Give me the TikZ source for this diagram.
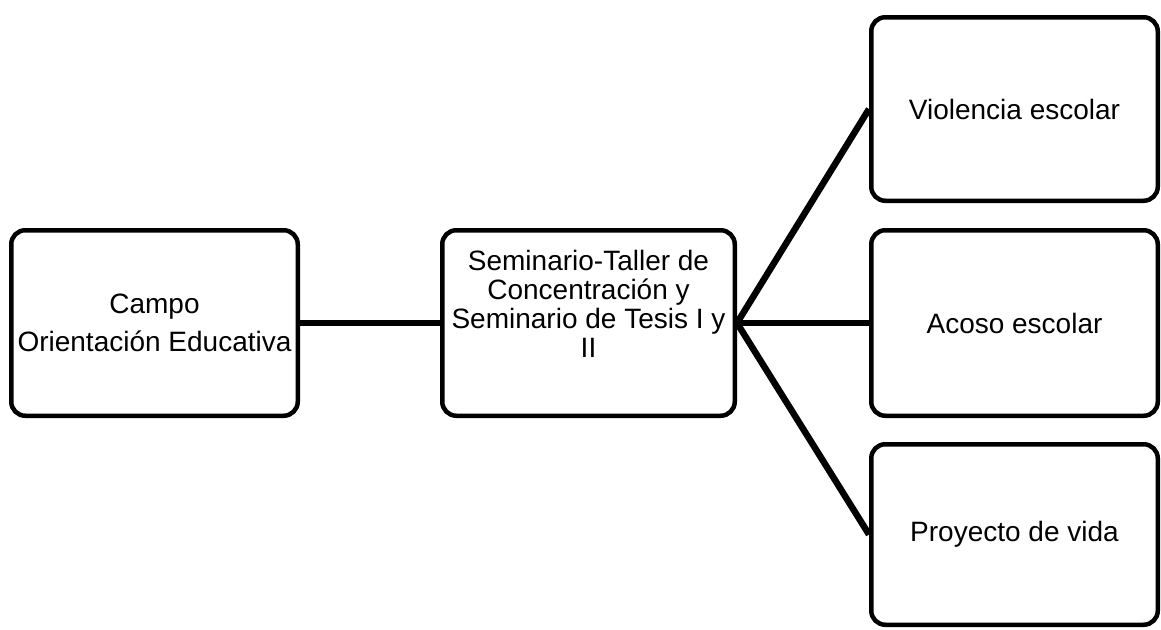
\documentclass[tikz,border=0pt]{standalone}
\usepackage{fontspec}
\setmainfont{Liberation Sans}
\usetikzlibrary{positioning}

\begin{document}
\begin{tikzpicture}[x=1pt,y=-1pt,
	box/.style={draw,line width=4.5pt,rounded corners=14pt,align=center,inner sep=0pt,
		minimum width=286.5pt,font=\fontsize{28}{29}\selectfont},
	link/.style={line width=6.5pt}]
\useasboundingbox (0,0) rectangle (1161,629);
\node[box,minimum height=185.5pt] (campo) at (154.5,323) {Campo\\[9pt]Orientación Educativa};
\node[box,minimum height=185.5pt,minimum width=292.5pt,text depth=38pt,right=140pt of campo] (sem)
	{Seminario-Taller de\\Concentración y\\Seminario de Tesis I y\\II};
\node[box,minimum height=185.5pt,right=132pt of sem] (acoso) {Acoso escolar};
\node[box,minimum height=183.5pt,above=25pt of acoso] (viol) {Violencia escolar};
\node[box,minimum height=180.5pt,below=24pt of acoso] (proy) {Proyecto de vida};
\path[link]
(campo) edge (sem)
(sem.east) edge (viol.west)
edge (acoso.west)
edge (proy.west);
\end{tikzpicture}
\end{document}
